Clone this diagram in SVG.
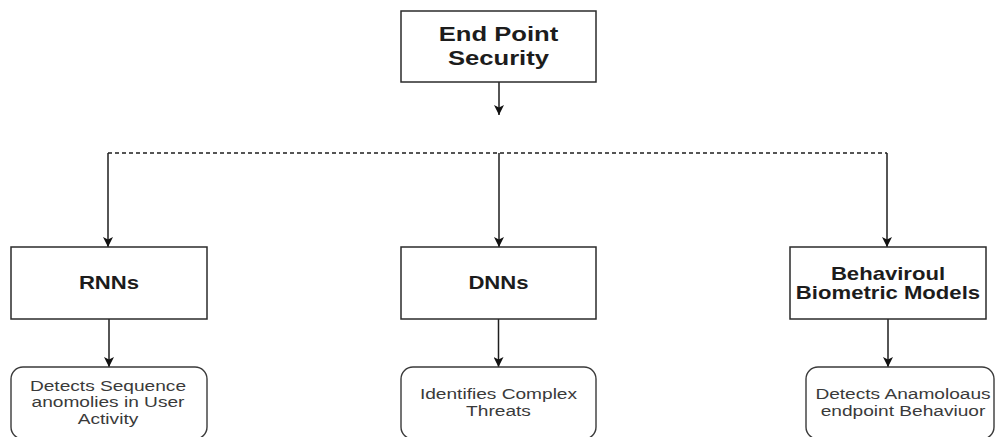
<svg xmlns="http://www.w3.org/2000/svg" width="995" height="437" viewBox="0 0 995 437">
  <style>
    .box { fill: #ffffff; stroke: #2b2b2b; stroke-width: 1.5; }
    .leaf { fill: #ffffff; stroke: #3a3a3a; stroke-width: 1.4; }
    .edge { fill: none; stroke: #1e1e1e; stroke-width: 1.5; }
    .dash { fill: none; stroke: #1e1e1e; stroke-width: 1.3; stroke-dasharray: 4 3; }
    .title { font-family: "Liberation Sans", Arial, sans-serif; font-weight: bold; fill: #1c1c1c; text-anchor: middle; }
    .desc { font-family: "Liberation Sans", Arial, sans-serif; fill: #3a3a3a; text-anchor: middle; font-size: 15.3px; }
  </style>
  <defs>
    <marker id="arrow" markerUnits="userSpaceOnUse" markerWidth="12" markerHeight="10" refX="10" refY="5" orient="auto">
      <path d="M0,0 L10,5 L0,10 L2.5,5 Z" fill="#111111"/>
    </marker>
  </defs>

  <rect width="995" height="437" fill="#ffffff"/>

  <!-- connectors -->
  <g id="connectors">
    <path class="edge" d="M499,82 V115" marker-end="url(#arrow)"/>
    <path class="dash" d="M108,153 H887"/>
    <path class="edge" d="M108,153 V247" marker-end="url(#arrow)"/>
    <path class="edge" d="M499,153 V247" marker-end="url(#arrow)"/>
    <path class="edge" d="M887,153 V247" marker-end="url(#arrow)"/>
    <path class="edge" d="M109,319 V367" marker-end="url(#arrow)"/>
    <path class="edge" d="M498.5,319 V367" marker-end="url(#arrow)"/>
    <path class="edge" d="M888,319 V367" marker-end="url(#arrow)"/>
  </g>

  <!-- root -->
  <g id="endpoint-security">
    <rect class="box" x="401" y="11" width="195" height="71"/>
    <g transform="scale(1.25 1)">
      <text class="title" font-size="20.5" x="398.8" y="41">End Point</text>
      <text class="title" font-size="20.5" x="398.8" y="65">Security</text>
    </g>
  </g>

  <!-- model boxes -->
  <g id="rnns">
    <rect class="box" x="11" y="247" width="196" height="72"/>
    <g transform="scale(1.25 1)">
      <text class="title" font-size="17.7" x="87.2" y="289">RNNs</text>
    </g>
  </g>
  <g id="dnns">
    <rect class="box" x="401" y="247" width="195" height="72"/>
    <g transform="scale(1.25 1)">
      <text class="title" font-size="17.7" x="398.8" y="289">DNNs</text>
    </g>
  </g>
  <g id="behavioural-biometrics">
    <rect class="box" x="790" y="247" width="196" height="72"/>
    <g transform="scale(1.25 1)">
      <text class="title" font-size="17.7" x="710.4" y="280">Behaviroul</text>
      <text class="title" font-size="17.7" x="710.4" y="299">Biometric Models</text>
    </g>
  </g>

  <!-- outcome boxes -->
  <g id="rnns-outcome">
    <rect class="leaf" x="11" y="367" width="196" height="72" rx="12" ry="12"/>
    <g transform="scale(1.25 1)">
      <text class="desc" x="86.4" y="391">Detects Sequence</text>
      <text class="desc" x="86.4" y="407.5">anomolies in User</text>
      <text class="desc" x="86.4" y="424">Activity</text>
    </g>
  </g>
  <g id="dnns-outcome">
    <rect class="leaf" x="401" y="367" width="195" height="72" rx="12" ry="12"/>
    <g transform="scale(1.25 1)">
      <text class="desc" x="398.8" y="399">Identifies Complex</text>
      <text class="desc" x="398.8" y="416">Threats</text>
    </g>
  </g>
  <g id="behavioural-outcome">
    <rect class="leaf" x="806" y="367" width="188" height="72" rx="12" ry="12"/>
    <g transform="scale(1.25 1)">
      <text class="desc" x="722.4" y="399">Detects Anamoloaus</text>
      <text class="desc" x="722.4" y="416">endpoint Behaviuor</text>
    </g>
  </g>
</svg>
